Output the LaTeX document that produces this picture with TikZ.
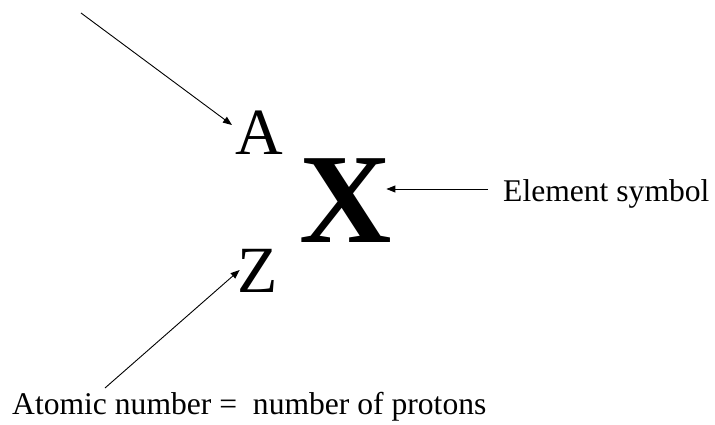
\documentclass[tikz,border=0pt]{standalone}
\usepackage{fontspec}
\setmainfont{Liberation Serif}
\usetikzlibrary{arrows.meta}
\begin{document}
\begin{tikzpicture}[x=1pt,y=-1pt,
  big/.style={inner sep=0pt,anchor=base,font=\fontsize{66}{66}\selectfont},
  huge/.style={inner sep=0pt,anchor=base,font=\fontsize{128}{128}\selectfont\bfseries},
  lbl/.style={inner sep=0pt,anchor=base west,font=\fontsize{31.6}{34}\selectfont},
  conn/.style={line width=0.9pt,-{Triangle[length=9pt,width=7pt]}}]
\useasboundingbox (0,0) rectangle (715,425);
\node[big] (A) at (259,154) {A};
\node[huge] (X) at (346,242) {X};
\node[big] (Z) at (258,292) {Z};
\node[lbl] (E) at (503,201) {Element symbol};
\node[lbl] (N) at (12,414) {Atomic number =\ \ number of protons};
\coordinate (s1) at (81,13);
\draw[conn] (s1) -- ([xshift=-3pt,yshift=29pt]A.base west);
\draw[conn] ([xshift=-15pt,yshift=12pt]E.base west) -- ([xshift=-6pt,yshift=53pt]X.base east);
\draw[conn] ([xshift=93pt,yshift=26pt]N.base west) -- ([xshift=2pt,yshift=22pt]Z.base west);
\end{tikzpicture}
\end{document}
